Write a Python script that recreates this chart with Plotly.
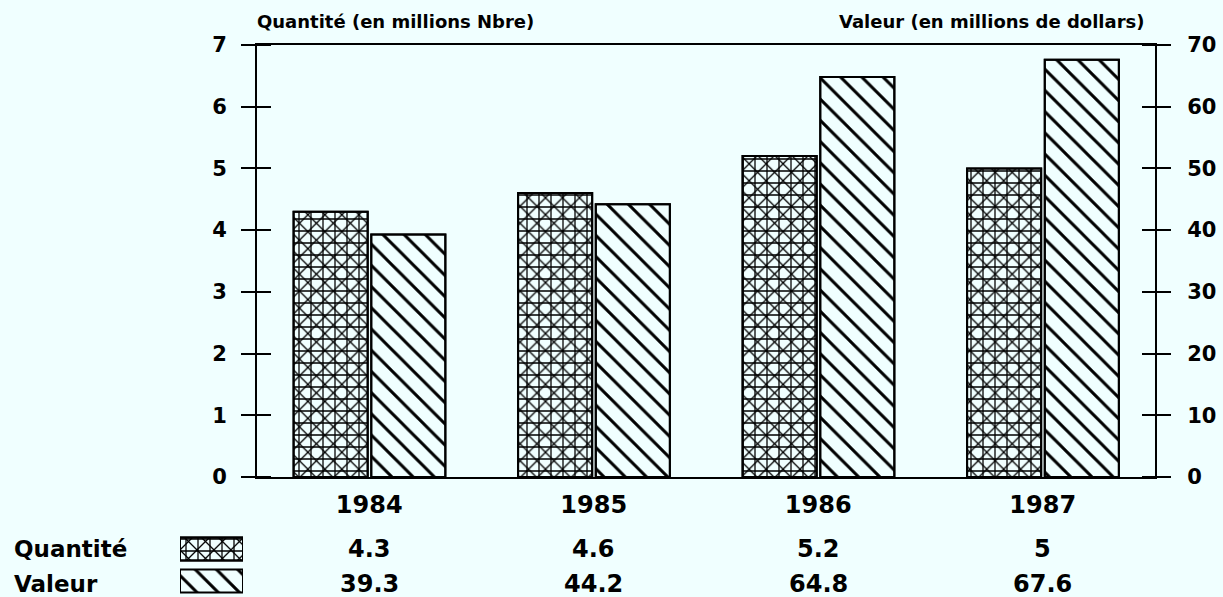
import plotly.graph_objects as go

years = ["1984", "1985", "1986", "1987"]
quantite = [4.3, 4.6, 5.2, 5.0]          # millions Nbre (left axis)
valeur = [39.3, 44.2, 64.8, 67.6]        # millions de dollars (right axis)
series_names = ["Quantité", "Valeur"]
left_ticks = [0, 1, 2, 3, 4, 5, 6, 7]
right_ticks = [0, 10, 20, 30, 40, 50, 60, 70]

W, H = 1223, 597
BG = "#F0FFFF"
FONT = "DejaVu Sans"

def px_x(p):
    return p / W

def px_y(p):
    return max(0.0, 1 - p / H)

x_dom = [px_x(257), px_x(1155)]
y_dom = [px_y(477), px_y(45)]

fig = go.Figure()

bar_w = 0.33
pat_x = dict(shape="x", size=12, solidity=0.2, fgcolor="black", bgcolor=BG, fgopacity=1)
pat_plus = dict(shape="+", size=12, solidity=0.2, fgcolor="black",
                bgcolor="rgba(0,0,0,0)", fillmode="overlay", fgopacity=1)
pat_back = dict(shape="\\", size=15, solidity=0.2, fgcolor="black", bgcolor=BG, fgopacity=1)

# Quantité: crosshatch built from two overlaid patterns
fig.add_trace(go.Bar(
    x=years, y=quantite, name=series_names[0], xaxis="x", yaxis="y",
    width=bar_w, offset=-0.337,
    marker=dict(color=BG, line=dict(color="black", width=2), pattern=pat_x),
    showlegend=False, hoverinfo="skip"))
fig.add_trace(go.Bar(
    x=years, y=quantite, name=series_names[0], xaxis="x", yaxis="y3",
    width=bar_w, offset=-0.337,
    marker=dict(color="rgba(0,0,0,0)", line=dict(color="black", width=2), pattern=pat_plus),
    showlegend=False, hoverinfo="skip"))
# Valeur: backslash hatch on right axis
fig.add_trace(go.Bar(
    x=years, y=valeur, name=series_names[1], xaxis="x", yaxis="y2",
    width=bar_w, offset=0.009,
    marker=dict(color=BG, line=dict(color="black", width=2), pattern=pat_back),
    showlegend=False, hoverinfo="skip"))
# same Valeur bars, attached to the inner right tick axis
fig.add_trace(go.Bar(
    x=years, y=valeur, name=series_names[1], xaxis="x", yaxis="y5",
    width=bar_w, offset=0.009,
    marker=dict(color="rgba(0,0,0,0)", line=dict(color="black", width=2)),
    showlegend=False, hoverinfo="skip"))

# legend swatches (table key)
sw_len = [1] * len(series_names)
fig.add_trace(go.Bar(
    y=series_names, x=sw_len, orientation="h", xaxis="x2", yaxis="y4", width=0.72,
    marker=dict(color=BG, line=dict(color="black", width=2),
                pattern=dict(shape=["x", "\\"], size=[12, 15], solidity=[0.2, 0.2],
                             fgcolor="black", bgcolor=BG, fgopacity=1)),
    showlegend=False, hoverinfo="skip"))
fig.add_trace(go.Bar(
    y=series_names[:1], x=sw_len[:1], orientation="h", xaxis="x2", yaxis="y4", width=0.72,
    marker=dict(color="rgba(0,0,0,0)", line=dict(color="black", width=2), pattern=pat_plus),
    showlegend=False, hoverinfo="skip"))

tickfont = dict(family=FONT, size=21, color="black", weight="bold")

annotations = [
    dict(text="Quantité (en millions Nbre)", xref="paper", yref="paper",
         x=px_x(255), y=px_y(21), xanchor="left", yanchor="middle", showarrow=False,
         font=dict(family=FONT, size=18, color="black", weight="bold")),
    dict(text="Valeur (en millions de dollars)", xref="paper", yref="paper",
         x=px_x(1146), y=px_y(21), xanchor="right", yanchor="middle", showarrow=False,
         font=dict(family=FONT, size=18, color="black", weight="bold")),
]
row_y = [px_y(549), px_y(584)]
for name, vals, ry in zip(series_names, [quantite, valeur], row_y):
    annotations.append(dict(text=name, xref="paper", yref="paper", x=px_x(12), y=ry,
                            xanchor="left", yanchor="middle", showarrow=False,
                            font=dict(family=FONT, size=23, color="black", weight="bold")))
    for i, v in enumerate(vals):
        annotations.append(dict(text=f"{v:g}", xref="x", yref="paper", x=i, y=ry,
                                xanchor="center", yanchor="middle", showarrow=False,
                                font=dict(family=FONT, size=24, color="black", weight="bold")))

inner_tick = dict(showline=False, ticks="outside", ticklen=14, tickwidth=2,
                  tickcolor="black", showticklabels=False, showgrid=False,
                  zeroline=False, automargin=False, anchor="free", overlaying="y",
                  domain=y_dom)

fig.update_layout(
    width=W, height=H,
    margin=dict(l=0, r=0, t=0, b=0),
    paper_bgcolor=BG, plot_bgcolor=BG,
    barmode="overlay",
    xaxis=dict(domain=x_dom, type="category", categoryorder="array", categoryarray=years,
               range=[-0.5, 3.5], anchor="y", showline=True, mirror=True, linecolor="black",
               linewidth=2, ticks="", showgrid=False, zeroline=False,
               tickfont=dict(family=FONT, size=24, color="black", weight="bold"),
               ticklabelstandoff=5, automargin=False),
    yaxis=dict(domain=y_dom, range=[0, 7], tickvals=left_ticks, anchor="x", side="left",
               showline=True, linecolor="black", linewidth=2, ticks="outside", ticklen=14,
               tickwidth=2, tickcolor="black", showgrid=False, zeroline=False,
               tickfont=tickfont, ticklabelstandoff=10, automargin=False),
    yaxis3=dict(range=[0, 7], tickvals=left_ticks, side="left",
                position=px_x(257 + 14), **inner_tick),
    yaxis2=dict(domain=y_dom, range=[0, 70], tickvals=right_ticks, anchor="x", side="right",
                overlaying="y", showline=True, linecolor="black", linewidth=2,
                ticks="outside", ticklen=14, tickwidth=2, tickcolor="black",
                showgrid=False, zeroline=False, tickfont=tickfont, ticklabelstandoff=12,
                automargin=False),
    yaxis5=dict(range=[0, 70], tickvals=right_ticks, side="right",
                position=px_x(1155 - 14), **inner_tick),
    xaxis2=dict(domain=[px_x(180), px_x(243)], range=[0, 1], anchor="y4", visible=False),
    yaxis4=dict(domain=[px_y(597), px_y(533)], type="category", categoryorder="array",
                categoryarray=series_names, autorange="reversed", anchor="x2", visible=False),
    annotations=annotations,
)

fig.write_html("out.html", config={"displayModeBar": False},
               post_script="document.body.style.margin='0';document.body.style.overflow='hidden';")
